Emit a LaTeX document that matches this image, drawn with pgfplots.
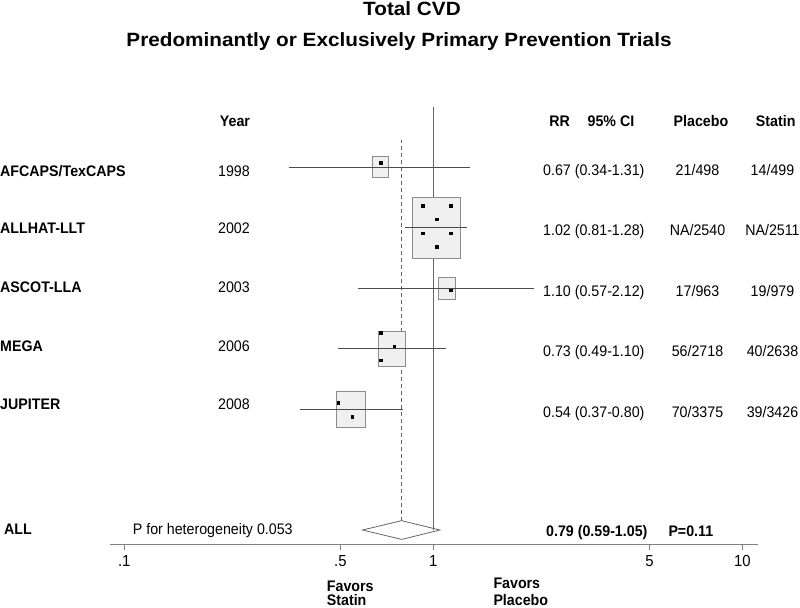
\documentclass[border=0pt]{standalone}
\usepackage{fontspec}
\setmainfont[FakeStretch=0.93]{Liberation Sans}
\newfontfamily\titlefont[FakeStretch=1.08]{Liberation Sans}
\usepackage{pgfplots}
\pgfplotsset{compat=1.18}

\newcommand{\body}{\fontsize{15.3bp}{18bp}\selectfont}
\newcommand{\ttl}{\titlefont\fontsize{19.2bp}{23bp}\selectfont\bfseries}

\begin{document}
\begin{tikzpicture}
\begin{axis}[
    at={(110bp,-544.3bp)}, anchor=south west,
    scale only axis, width=648bp, height=437.8bp,
    xmode=log, xmin=0.0899, xmax=11.23, ymin=-0.236, ymax=7,
    axis x line=bottom, axis y line=none,
    axis line style={-, black!50, line width=0.8bp},
    xtick={0.1,0.5,1,5,10}, xticklabels={.1,.5,1,5,10},
    minor x tick num=0,
    tick align=outside, major tick length=6bp,
    tick style={black!50, line width=0.8bp},
    xticklabel style={font=\fontsize{16bp}{19bp}\selectfont, text=black, yshift=-2bp},
    clip=false,
]
% reference lines: no effect (1) and pooled estimate (0.79)
\addplot[black!60, line width=0.8bp] coordinates {(1,0) (1,7)};
\addplot[black!60, line width=0.8bp, dash pattern=on 4bp off 3bp] coordinates {(0.79,0.155) (0.79,6.45)};

% weight boxes
\addplot[draw=black!45, fill=black!6, line width=0.8bp] coordinates {(0.635,5.823) (0.715,5.823) (0.715,6.170) (0.635,6.170)} -- cycle;
\addplot[draw=black!45, fill=black!6, line width=0.8bp] coordinates {(0.858,4.491) (1.223,4.491) (1.223,5.493) (0.858,5.493)} -- cycle;
\addplot[draw=black!45, fill=black!6, line width=0.8bp] coordinates {(1.041,3.813) (1.178,3.813) (1.178,4.177) (1.041,4.177)} -- cycle;
\addplot[draw=black!45, fill=black!6, line width=0.8bp] coordinates {(0.664,2.699) (0.812,2.699) (0.812,3.284) (0.664,3.284)} -- cycle;
\addplot[draw=black!45, fill=black!6, line width=0.8bp] coordinates {(0.4855,1.698) (0.604,1.698) (0.604,2.298) (0.4855,2.298)} -- cycle;

% 95% CI lines
\addplot[black!70, line width=0.8bp] coordinates {(0.34,6) (1.31,6)};
\addplot[black!70, line width=0.8bp] coordinates {(0.81,5) (1.28,5)};
\addplot[black!70, line width=0.8bp] coordinates {(0.57,4) (2.12,4)};
\addplot[black!70, line width=0.8bp] coordinates {(0.49,3) (1.10,3)};
\addplot[black!70, line width=0.8bp] coordinates {(0.37,2) (0.80,2)};

% dots inside the boxes
\addplot[only marks, mark=square*, mark size=1.3bp, black] coordinates {
    (0.674,6.071)
    (0.924,5.360) (1.138,5.360) (1.026,5.136) (0.924,4.904) (1.138,4.904) (1.026,4.678)
    (1.138,3.967)
    (0.674,3.261) (0.748,3.036) (0.674,2.810)
    (0.4928,2.104) (0.5467,1.873)
};

% pooled estimate
\addplot[draw=black!60, line width=0.8bp] coordinates {(0.59,0) (0.79,0.155) (1.05,0) (0.79,-0.155)} -- cycle;
\end{axis}

\begin{scope}[x=1bp, y=-1bp, every node/.style={inner sep=0pt, font=\body}]
\node[anchor=base, font=\ttl] at (412,15) {Total CVD};
\node[anchor=base, font=\ttl] at (399,46.7) {Predominantly or Exclusively Primary Prevention Trials};

\node[anchor=base, font=\body\bfseries] at (235,126.2) {Year};
\node[anchor=base, font=\body\bfseries] at (559.7,126.2) {RR};
\node[anchor=base, font=\body\bfseries] at (611,126.2) {95\% CI};
\node[anchor=base, font=\body\bfseries] at (701,126.2) {Placebo};
\node[anchor=base, font=\body\bfseries] at (775.7,126.2) {Statin};

\node[anchor=base west, font=\body\bfseries] at (0,176.5) {AFCAPS/TexCAPS};
\node[anchor=base west, font=\body\bfseries] at (0,233.8) {ALLHAT-LLT};
\node[anchor=base west, font=\body\bfseries] at (0,292.8) {ASCOT-LLA};
\node[anchor=base west, font=\body\bfseries] at (0,351.5) {MEGA};
\node[anchor=base west, font=\body\bfseries] at (0,409.8) {JUPITER};

\node[anchor=base east] at (250,176.5) {1998};
\node[anchor=base east] at (250,233.8) {2002};
\node[anchor=base east] at (250,292.8) {2003};
\node[anchor=base east] at (250,351.5) {2006};
\node[anchor=base east] at (250,409.8) {2008};

\node[anchor=base west] at (543,175.5) {0.67 (0.34-1.31)};
\node[anchor=base west] at (543,235.5) {1.02 (0.81-1.28)};
\node[anchor=base west] at (543,296.2) {1.10 (0.57-2.12)};
\node[anchor=base west] at (543,356.5) {0.73 (0.49-1.10)};
\node[anchor=base west] at (543,417.2) {0.54 (0.37-0.80)};

\node[anchor=base] at (697.5,175.5) {21/498};
\node[anchor=base] at (697.5,235.5) {NA/2540};
\node[anchor=base] at (697.5,296.2) {17/963};
\node[anchor=base] at (697.5,356.5) {56/2718};
\node[anchor=base] at (697.5,417.2) {70/3375};

\node[anchor=base] at (772.5,175.5) {14/499};
\node[anchor=base] at (772.5,235.5) {NA/2511};
\node[anchor=base] at (772.5,296.2) {19/979};
\node[anchor=base] at (772.5,356.5) {40/2638};
\node[anchor=base] at (772.5,417.2) {39/3426};

\node[anchor=base west, font=\body\bfseries] at (4,534.8) {ALL};
\node[anchor=base west] at (132.7,534.6) {P for heterogeneity 0.053};
\node[anchor=base west, font=\body\bfseries] at (546,536.2) {0.79 (0.59-1.05)};
\node[anchor=base west, font=\body\bfseries] at (668.3,536.2) {P=0.11};

\node[anchor=base west, font=\body\bfseries] at (326.7,591.2) {Favors};
\node[anchor=base west, font=\body\bfseries] at (326.7,605.4) {Statin};
\node[anchor=base west, font=\body\bfseries] at (493.3,588.8) {Favors};
\node[anchor=base west, font=\body\bfseries] at (493.3,605.4) {Placebo};
\end{scope}

\pgfresetboundingbox
\useasboundingbox (0,0) rectangle (800bp,-608bp);
\end{tikzpicture}
\end{document}
